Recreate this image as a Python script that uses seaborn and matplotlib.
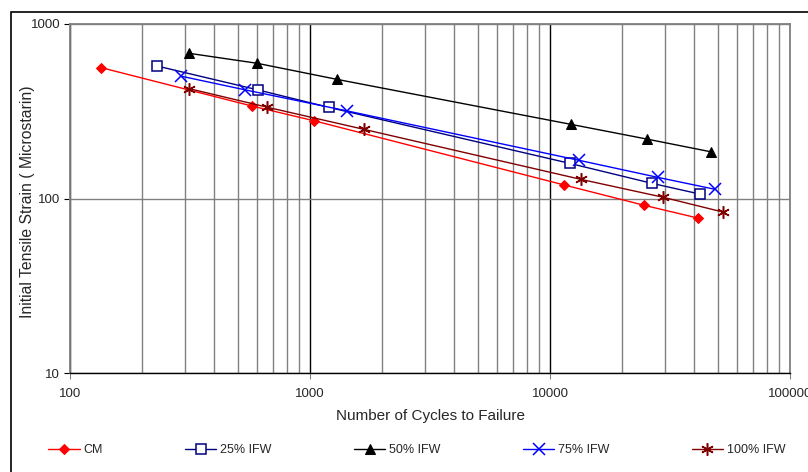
import numpy as np
import pandas as pd
import matplotlib
matplotlib.use('Agg')
import matplotlib.pyplot as plt
import seaborn as sns
from matplotlib.ticker import LogLocator, FixedLocator, NullFormatter

# data
cm_x = [135, 572, 1039, 11470, 24700, 41250]
cm_y = [562, 339, 279, 119.5, 91.4, 77.3]
ifw25_x = [231, 607, 1197, 12080, 26700, 42170]
ifw25_y = [574, 419, 333, 159, 122, 106]
ifw50_x = [314, 600, 1292, 12230, 25360, 47000]
ifw50_y = [679, 596, 482, 266, 219, 185]
ifw75_x = [289, 538, 1422, 13210, 28260, 48550]
ifw75_y = [503, 419, 318, 165.5, 132, 113]
ifw100_x = [314, 660, 1679, 13420, 29650, 52430]
ifw100_y = [426, 334, 249, 128.8, 101.6, 83.7]

series_names = ['CM', '25% IFW', '50% IFW', '75% IFW', '100% IFW']

sns.set_style('white')
plt.rcParams['font.family'] = ['Liberation Sans', 'DejaVu Sans']

fig = plt.figure(figsize=(8.08, 4.72), dpi=100)
# outer chart border
fig.patches.append(plt.Rectangle((11/808, -0.1), 1.2, 1 - 12/472 + 0.1, transform=fig.transFigure,
                                 fill=False, edgecolor='black', linewidth=1.2))
ax = fig.add_axes([70/808, 1 - 373/472, 720/808, 349/472])

styles = [
    dict(color='red', marker='D', markersize=5.5, markerfacecolor='red', markeredgecolor='red'),
    dict(color='navy', marker='s', markersize=6.5, markerfacecolor='white', markeredgecolor='navy', markeredgewidth=1.1),
    dict(color='black', marker='^', markersize=7, markerfacecolor='black', markeredgecolor='black'),
    dict(color='blue', marker='x', markersize=8, markeredgewidth=1.1, markeredgecolor='blue'),
    dict(color='#800000', marker=(6, 2, 0), markersize=9, markeredgewidth=1.1, markeredgecolor='#800000'),
]
xs = [cm_x, ifw25_x, ifw50_x, ifw75_x, ifw100_x]
ys = [cm_y, ifw25_y, ifw50_y, ifw75_y, ifw100_y]
for name, x, y, st in zip(series_names, xs, ys, styles):
    df = pd.DataFrame({'x': x, 'y': y})
    sns.lineplot(data=df, x='x', y='y', ax=ax, label=name, linewidth=1.0, sort=False, **st)

ax.set_xscale('log')
ax.set_yscale('log')
ax.set_xlim(100, 100000)
ax.set_ylim(10, 1000)

ax.xaxis.set_major_locator(FixedLocator([100, 1000, 10000, 100000]))
ax.xaxis.set_minor_locator(LogLocator(base=10, subs=np.arange(2, 10)))
ax.xaxis.set_minor_formatter(NullFormatter())
ax.set_xticklabels(['100', '1000', '10000', '100000'])
ax.yaxis.set_major_locator(FixedLocator([10, 100, 1000]))
ax.yaxis.set_minor_locator(FixedLocator([]))
ax.set_yticklabels(['10', '100', '1000'])

ax.grid(True, which='major', axis='x', color='black', linewidth=1.0)
ax.grid(True, which='minor', axis='x', color='#808080', linewidth=1.0)
ax.grid(True, which='major', axis='y', color='#808080', linewidth=1.0)
ax.set_axisbelow(True)

ax.tick_params(axis='x', which='major', length=4, direction='out', bottom=True, color='#808080',
               labelsize=9.5, pad=7)
ax.tick_params(axis='x', which='minor', length=0)
ax.tick_params(axis='y', which='major', length=4, direction='out', left=True, labelsize=9.5, color='black', pad=3)
for s in ['left', 'top', 'right']:
    ax.spines[s].set_color('#808080')
    ax.spines[s].set_linewidth(1.3)
ax.spines['bottom'].set_color('black')
ax.spines['bottom'].set_linewidth(1.0)

ax.set_xlabel('Number of Cycles to Failure', fontsize=11, labelpad=6)
ax.set_ylabel('Initial Tensile Strain ( Microstarin)', fontsize=11.3)
ax.yaxis.set_label_coords(-0.049, 0.49)

ax.legend_.remove()
handles, labels = ax.get_legend_handles_labels()
fig.legend(handles, labels, loc='center left', bbox_to_anchor=(37/808, 1 - 450/472), ncol=5,
           frameon=False, fontsize=9, handlelength=2.5, handletextpad=0.3, columnspacing=6.6)

fig.savefig('out.png', dpi=100)
